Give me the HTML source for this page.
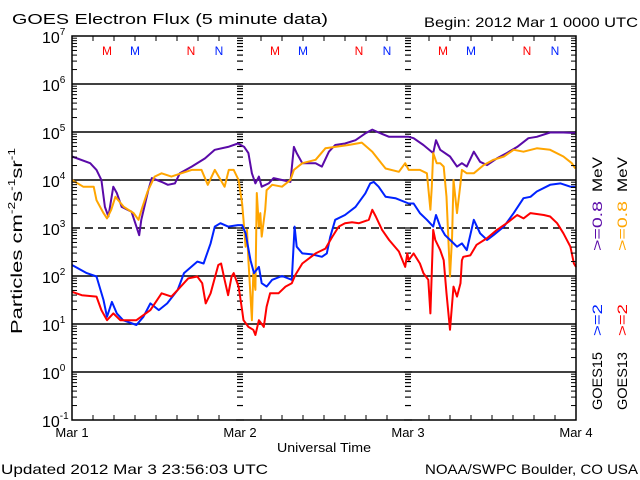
<!DOCTYPE html>
<html><head><meta charset="utf-8"><style>
html,body{margin:0;padding:0;background:#fff;}
svg{display:block;font-family:"Liberation Sans",sans-serif;}
</style></head><body>
<svg id="chart" width="640" height="480" viewBox="0 0 640 480" xmlns="http://www.w3.org/2000/svg">
<rect width="640" height="480" fill="#fff"/>
<text x="12" y="24" font-size="15" textLength="316" lengthAdjust="spacingAndGlyphs">GOES Electron Flux (5 minute data)</text>
<text x="424" y="27" font-size="14" textLength="214" lengthAdjust="spacingAndGlyphs">Begin: 2012 Mar 1 0000 UTC</text>
<text x="1" y="474" font-size="14" textLength="267" lengthAdjust="spacingAndGlyphs">Updated 2012 Mar  3 23:56:03 UTC</text>
<text x="425" y="474" font-size="14" textLength="213" lengthAdjust="spacingAndGlyphs">NOAA/SWPC Boulder, CO USA</text>
<text x="277" y="452" font-size="13" textLength="94" lengthAdjust="spacingAndGlyphs">Universal Time</text>
<text transform="translate(22,334) rotate(-90)" font-size="16" textLength="186" lengthAdjust="spacingAndGlyphs">Particles cm<tspan font-size="10" dy="-7">-2</tspan><tspan dy="7">s</tspan><tspan font-size="10" dy="-7">-1</tspan><tspan dy="7">sr</tspan><tspan font-size="10" dy="-7">-1</tspan></text>
<g id="legend" font-size="14">
<text transform="translate(602,410) rotate(-90)" textLength="58" lengthAdjust="spacingAndGlyphs">GOES15</text>
<text transform="translate(602,336) rotate(-90)" fill="#0022ff" textLength="32" lengthAdjust="spacingAndGlyphs">&gt;=2</text>
<text transform="translate(602,251) rotate(-90)" fill="#5a0aa8" textLength="50" lengthAdjust="spacingAndGlyphs">&gt;=0.8</text>
<text transform="translate(602,192) rotate(-90)" textLength="35" lengthAdjust="spacingAndGlyphs">MeV</text>
<text transform="translate(627,410) rotate(-90)" textLength="58" lengthAdjust="spacingAndGlyphs">GOES13</text>
<text transform="translate(627,336) rotate(-90)" fill="#ff0000" textLength="32" lengthAdjust="spacingAndGlyphs">&gt;=2</text>
<text transform="translate(627,251) rotate(-90)" fill="#ffa500" textLength="50" lengthAdjust="spacingAndGlyphs">&gt;=0.8</text>
<text transform="translate(627,192) rotate(-90)" textLength="35" lengthAdjust="spacingAndGlyphs">MeV</text>
</g>
<g id="grid"></g>
<g id="series"></g>
<g id="axes"></g>
</svg>
<script>
// ---- data (time in hours since 2012-03-01 00:00 UTC, values are log10 flux) ----
const dayLabels = ["Mar 1","Mar 2","Mar 3","Mar 4"];
const yExponents = [-1,0,1,2,3,4,5,6,7];
const markerLabels = ["M","M","N","N","M","M","N","N","M","M","N","N"];
const markerHours = [5,9,17,21,29,33,41,45,53,57,65,69];
const markerSat = ["g13","g15","g13","g15","g13","g15","g13","g15","g13","g15","g13","g15"];

const purpleT = [0,2.6,3.5,4.2,4.7,5.2,5.9,6.4,7.1,8.5,9.2,9.6,9.9,10.9,11.4,12.8,13.7,14.7,15.4,17.1,19,20.4,22.3,23.7,24.6,25.2,25.7,26.2,26.7,27.1,28.1,28.8,30,31.2,31.7,32.1,32.9,34.8,35.7,36.7,37.6,39,40.5,41.9,42.9,43.8,45.3,47.2,48.1,48.8,50.2,51.6,52,52.6,54,55,55.7,56.4,57.4,58.3,59.3,60.7,62.1,63.6,65.2,66.4,68.3,70.2,71.9];
const purpleV = [4.49,4.35,4.21,4.0,3.44,3.24,3.86,3.73,3.44,3.34,3.03,2.85,3.17,3.79,4.04,3.96,3.90,3.93,4.14,4.28,4.45,4.63,4.69,4.76,4.69,4.56,4.14,3.93,4.07,3.86,3.93,4.04,4.0,3.96,4.69,4.56,4.35,4.35,4.28,4.59,4.73,4.76,4.83,4.97,5.05,4.99,4.90,4.90,4.90,4.87,4.73,4.56,4.83,4.63,4.49,4.28,4.35,4.28,4.59,4.38,4.31,4.45,4.56,4.69,4.87,4.90,4.99,4.99,4.98];

const orangeT = [0,1.6,3.1,3.5,4.5,5.0,5.6,6.2,7.4,8.8,9.5,10,10.8,11.8,12.8,14.2,15.6,17.1,18.5,19.4,20.4,21.8,22.4,23.1,23.8,24.3,24.5,24.8,25,25.2,25.7,25.9,26.2,26.4,26.7,26.9,27.1,27.6,27.8,28.1,28.6,30,31.2,31.7,32.9,34.8,36.2,37.6,39.5,41.4,42.9,43.8,44.8,46.7,47.6,48.1,49.7,50.7,51.2,51.4,51.6,52.1,52.6,53.1,53.5,54,54.3,54.5,55,55.5,55.7,56.4,57.4,58.8,60.2,61.7,63.1,64.5,66.4,68.3,70.2,71.4,71.9];
const orangeV = [4.0,3.86,3.86,3.58,3.31,3.20,3.38,3.65,3.44,3.31,3.17,3.41,3.76,4.07,4.14,4.07,4.14,4.21,4.21,3.90,4.21,3.86,4.21,4.21,4.0,3.51,3.17,2.61,2.96,2.33,1.08,2.06,1.71,3.73,3.03,3.31,2.82,3.38,3.79,3.83,3.90,3.86,4.0,4.21,4.35,4.42,4.66,4.69,4.73,4.78,4.59,4.42,4.24,4.17,4.35,4.21,4.21,4.14,3.38,3.86,4.56,4.35,4.35,4.28,3.65,1.99,2.82,4.0,3.31,3.93,4.21,4.14,4.14,4.31,4.42,4.49,4.63,4.59,4.66,4.63,4.49,4.35,4.24];

const blueT = [0,2.1,3.5,4.5,5,5.7,6.4,7.3,9.2,10.2,11.2,12.4,13.6,15.1,16,17.9,18.8,19.3,19.8,20.4,21.2,22.3,23.7,24.3,24.8,25.5,26,26.7,27.1,27.8,28.6,30,31.4,31.8,32.1,32.9,34.3,35.7,36.4,36.9,37.6,39,40.5,41.9,42.6,43.1,43.8,44.8,46.2,48.1,48.8,49.7,50.7,51.6,52,52.6,53.3,54.3,55,55.7,56.4,57.4,58.3,59.3,60.2,61.7,63.1,64.5,65.5,66.4,68.3,69.8,71.2,71.9];
const blueV = [2.23,2.06,1.99,1.5,1.15,1.46,1.22,1.08,0.98,1.15,1.43,1.29,1.43,1.71,2.06,2.30,2.26,2.47,2.68,3.03,3.10,3.03,3.06,3.06,2.89,2.33,2.06,2.19,1.85,1.78,1.92,2.0,1.92,3.03,2.61,2.47,2.45,2.40,2.47,2.82,3.17,3.27,3.44,3.72,3.93,3.96,3.86,3.65,3.62,3.51,3.51,3.31,3.17,3.03,3.27,3.03,2.85,2.71,2.61,2.68,2.54,3.17,2.89,2.75,2.85,3.03,3.31,3.62,3.65,3.76,3.90,3.93,3.86,3.86];

const redT = [0,1.4,3.5,4.2,5,5.9,6.9,9.2,11.2,12.8,14.2,15.1,16.6,17.9,18.6,19.1,19.8,20.9,21.3,21.8,22.3,22.8,23.1,23.8,24.3,24.5,25.2,25.9,26.2,26.7,27.4,27.6,27.8,28.3,29.5,30.5,31.4,31.9,32.9,34.8,36.2,37.2,38.1,39,40,41,42.4,42.9,43.4,44.3,45.3,46.7,47.6,47.9,48.1,48.8,49.7,50.2,50.9,51.2,51.6,51.9,52.6,53.1,53.5,54,54.5,55,55.5,55.7,55.9,56.9,57.8,59.3,60.7,62.1,63.6,64.5,65.5,67.4,68.3,69.3,70.2,71.2,71.7,72];
const redV = [1.67,1.60,1.57,1.29,1.08,1.22,1.08,1.08,1.29,1.64,1.57,1.71,1.95,1.99,1.85,1.43,1.64,2.23,2.26,1.92,1.6,1.99,2.06,1.78,1.29,1.08,0.94,0.88,0.77,1.08,0.94,1.15,1.36,1.64,1.64,1.78,1.85,2.02,2.26,2.47,2.57,2.82,3.03,3.10,3.12,3.10,3.17,3.38,3.24,2.96,2.75,2.51,2.19,2.47,2.33,2.47,2.26,2.06,1.92,1.22,2.96,2.75,2.54,2.33,1.64,0.88,1.78,1.57,1.85,2.33,2.40,2.43,2.65,2.79,2.96,3.10,3.27,3.20,3.31,3.27,3.24,3.10,2.89,2.61,2.26,2.19];

// ---- scales ----
const X0 = 72, X1 = 576, Y0 = 36, Y1 = 420, HOURS = 72, LMIN = -1, LMAX = 7;
function xScale(h){ return X0 + (h / HOURS) * (X1 - X0); }
function yScale(l){ return Y1 - (l - LMIN) / (LMAX - LMIN) * (Y1 - Y0); }

const NS = "http://www.w3.org/2000/svg";
function mk(tag, parent){ const e = document.createElementNS(NS, tag); parent.appendChild(e); return e; }
const grid = document.getElementById("grid");
const axes = document.getElementById("axes");
const series = document.getElementById("series");

yExponents.forEach(function(e){
  if (e === LMIN || e === LMAX) return;
  const ln = mk("line", grid);
  
  
  ln.setAttribute("x1", X0); ln.setAttribute("x2", X1);
  ln.setAttribute("y1", yScale(e)); ln.setAttribute("y2", yScale(e));
  ln.setAttribute("stroke", "#000"); ln.setAttribute("stroke-width", "1.5");
  if (e === 3) ln.setAttribute("stroke-dasharray", "8,5");
});

[1,2].forEach(function(d){
  const x = xScale(d * 24);
  for (let e = LMIN; e < LMAX; e++) {
    for (let k = 1; k <= 9; k++) {
      const y = yScale(e + Math.log10(k));
      const t = mk("line", grid);
      
      
      const w = k === 1 ? 4 : 3;
      t.setAttribute("x1", x - w); t.setAttribute("x2", x + w);
      t.setAttribute("y1", y); t.setAttribute("y2", y);
      t.setAttribute("stroke", "#000"); t.setAttribute("stroke-width", "1.2");
    }
  }
});

function drawSeries(T, V, color, name){
  const n = Math.min(T.length, V.length);
  const pts = [];
  for (let i = 0; i < n; i++) pts.push(xScale(T[i]).toFixed(1) + "," + yScale(V[i]).toFixed(1));
  const pl = mk("polyline", series);
  
  
  pl.setAttribute("points", pts.join(" "));
  pl.setAttribute("fill", "none"); pl.setAttribute("stroke", color);
  pl.setAttribute("stroke-width", "2"); pl.setAttribute("stroke-linejoin", "round");
}
drawSeries(purpleT, purpleV, "#5a0aa8", "goes15-ge08-mev-line");
drawSeries(orangeT, orangeV, "#ffa500", "goes13-ge08-mev-line");
drawSeries(blueT, blueV, "#0022ff", "goes15-ge2-mev-line");
drawSeries(redT, redV, "#ff0000", "goes13-ge2-mev-line");

const fr = mk("rect", axes);


fr.setAttribute("x", X0); fr.setAttribute("y", Y0);
fr.setAttribute("width", X1 - X0); fr.setAttribute("height", Y1 - Y0);
fr.setAttribute("fill", "none"); fr.setAttribute("stroke", "#000"); fr.setAttribute("stroke-width", "1.5");

for (let e = LMIN; e < LMAX; e++) {
  for (let k = 2; k <= 9; k++) {
    const y = yScale(e + Math.log10(k));
    [[X0, X0 + 5], [X1 - 5, X1]].forEach(function(p){
      const t = mk("line", axes);
      
      
      t.setAttribute("x1", p[0]); t.setAttribute("x2", p[1]);
      t.setAttribute("y1", y); t.setAttribute("y2", y);
      t.setAttribute("stroke", "#000"); t.setAttribute("stroke-width", "1");
    });
  }
}
yExponents.forEach(function(e){
  const y = yScale(e);
  const tx = mk("text", axes);
  
  
  tx.setAttribute("x", 42); tx.setAttribute("y", y + 7);
  tx.setAttribute("font-size", "16");
  tx.textContent = "10";
  const sup = mk("tspan", tx);
  sup.setAttribute("font-size", "10"); sup.setAttribute("dy", "-8");
  sup.textContent = String(e);
});

for (let h = 3; h < HOURS; h += 3) {
  if (h % 24 === 0) continue;
  [[Y1, Y1 - 5], [Y0, Y0 + 5]].forEach(function(p){
    const t = mk("line", axes);
    
    
    t.setAttribute("x1", xScale(h)); t.setAttribute("x2", xScale(h));
    t.setAttribute("y1", p[0]); t.setAttribute("y2", p[1]);
    t.setAttribute("stroke", "#000"); t.setAttribute("stroke-width", "1");
  });
}
dayLabels.forEach(function(lbl, i){
  const tx = mk("text", axes);
  
  
  tx.setAttribute("x", xScale(i * 24)); tx.setAttribute("y", 437);
  tx.setAttribute("font-size", "13"); tx.setAttribute("text-anchor", "middle");
  tx.textContent = lbl;
});

markerLabels.forEach(function(lbl, i){
  const tx = mk("text", axes);
  
  
  tx.setAttribute("x", xScale(markerHours[i])); tx.setAttribute("y", 55);
  tx.setAttribute("font-size", "12"); tx.setAttribute("text-anchor", "middle");
  tx.setAttribute("fill", markerSat[i] === "g13" ? "#ff0000" : "#0022ff");
  tx.textContent = lbl;
});
</script>
</body></html>
